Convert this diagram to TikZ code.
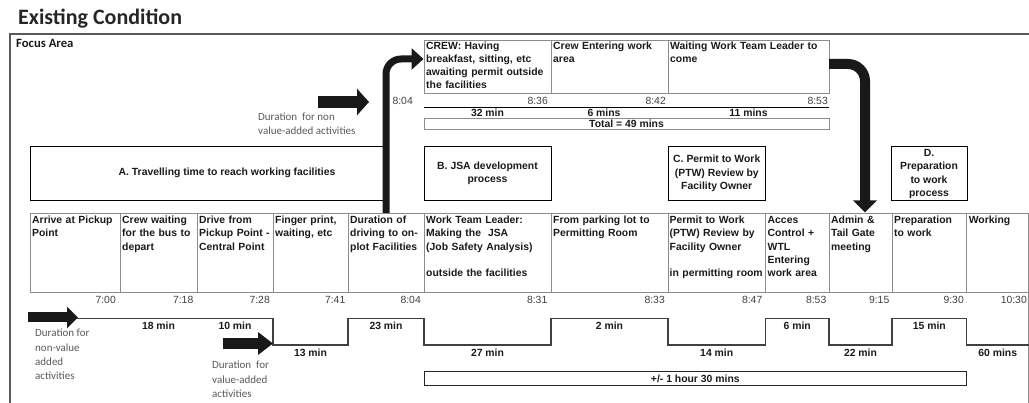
\documentclass[tikz,border=0pt]{standalone}
\usepackage{fontspec}
\setmainfont{Liberation Sans}
\newfontfamily\calfont{Carlito}
\usetikzlibrary{arrows.meta}
\definecolor{tline}{HTML}{8C8C8C}
\definecolor{txt}{HTML}{1A1A1A}
\definecolor{tim}{HTML}{404040}
\definecolor{grayt}{HTML}{595959}
\definecolor{framec}{HTML}{595959}
\definecolor{stepc}{HTML}{404040}
\tikzset{
  cell/.style={anchor=north west, inner sep=0pt, align=left, text width=#1,
    font=\bfseries\fontsize{10.4}{13.2}\selectfont, text=txt, execute at begin node=\strut},
  cat/.style={inner sep=0pt, align=center, font=\bfseries\fontsize{10.4}{13.3}\selectfont, text=txt},
  catbox/.style={draw=black, line width=0.9pt, inner sep=0pt},
  tm/.style={anchor=east, inner sep=0pt, font=\fontsize{10.4}{12}\selectfont, text=tim},
  dur/.style={inner sep=0pt, font=\bfseries\fontsize{10.4}{12}\selectfont, text=txt},
  cal/.style={anchor=north west, inner sep=0pt, align=left,
    font=\calfont\fontsize{11}{14.3}\selectfont, text=grayt, execute at begin node=\strut},
  bigarrow/.style={line width=#1, draw=black!90},
}
\begin{document}
\begin{tikzpicture}[x=1pt,y=-1pt]
\useasboundingbox (0,0) rectangle (1029,403);

% title and frame
\node[anchor=base west, inner sep=0pt, font=\calfont\bfseries\fontsize{22}{26}\selectfont, text=black!85] (title) at (18,25) {Existing Condition};
\draw[framec, line width=2pt] (10,404) -- (10,34) -- (1031,34);
\node[anchor=base west, inner sep=0pt, font=\calfont\bfseries\fontsize{12.7}{15}\selectfont, text=black!90] (focus) at (16,48) {Focus Area};

% top (crew) section
\draw[tline, line width=0.8pt] (424,40) rectangle (829,93);
\draw[tline, line width=0.8pt] (551,40) -- (551,93) (668,40) -- (668,93);
\node[cell=123pt] (crew1) at (426,39.8) {CREW: Having\\breakfast, sitting, etc\\awaiting permit outside\\the facilities};
\node[cell=113pt] (crew2) at (553,39.8) {Crew Entering work\\area};
\node[cell=156pt] (crew3) at (670,39.8) {Waiting Work Team Leader to\\come};
\node[tm] (t804a) at (413,101) {8:04};
\node[tm] (t836) at (548,101) {8:36};
\node[tm] (t842) at (666,101) {8:42};
\node[tm] (t853a) at (828,101) {8:53};
\draw[black, line width=0.9pt] (424,107) -- (829,107);
\node[dur] (d32) at (487.5,113) {32 min};
\node[dur] (d6a) at (604,113) {6 mins};
\node[dur] (d11) at (748.5,113) {11 mins};
\draw[tline, line width=0.8pt] (424,118) rectangle (829,129);
\node[dur] (tot) at (626.5,124) {Total = 49 mins};

% legend arrow top
\coordinate (la1) at (318,102);
\coordinate (la2) at (369,102);
\draw[bigarrow=12pt, -{Triangle[length=12pt,width=26pt]}] (la1) -- (la2);
\node[cal] (lt1) at (258,112.7) {Duration~ for non\\value-added activities};

% category boxes
\node[catbox, minimum width=356pt, minimum height=54pt] (boxA) at (208,173) {};
\node[cat] (txA) at (227,173) {A. Travelling time to reach working facilities};
\node[catbox, minimum width=127pt, minimum height=54pt] (boxB) at (487.5,173) {};
\node[cat] (txB) at (487.5,173) {B. JSA development\\process};
\node[catbox, minimum width=97.5pt, minimum height=54pt] (boxC) at (716.75,173) {};
\node[cat] (txC) at (716.75,173.5) {C. Permit to Work\\(PTW) Review by\\Facility Owner};
\node[catbox, minimum width=76pt, minimum height=54pt] (boxD) at (929,173) {};
\node[cat] (txD) at (929,174) {D.\\Preparation\\to work\\process};

% main table
\draw[tline, line width=0.8pt] (30,213) rectangle (1028.5,292);
\draw[tline, line width=0.8pt] (1028.5,292) -- (1028.5,404);
\foreach \x in {120,197,273,348,424,551,668,765.5,829,892,966.6}
  \draw[tline, line width=0.8pt] (\x,213) -- (\x,292);
\node[cell=86pt] (c1) at (32,214.3) {Arrive at Pickup\\Point};
\node[cell=73pt] (c2) at (122,214.3) {Crew waiting\\for the bus to\\depart};
\node[cell=73pt] (c3) at (199,214.3) {Drive from\\Pickup Point -\\Central Point};
\node[cell=72pt] (c4) at (275,214.3) {Finger print,\\waiting, etc};
\node[cell=73pt] (c5) at (350,214.3) {Duration of\\driving to on-\\plot Facilities};
\node[cell=124pt] (c6) at (426,214.3) {Work Team Leader:\\Making the~ JSA\\(Job Safety Analysis)\\[13.2pt]outside the facilities};
\node[cell=114pt] (c7) at (553,214.3) {From parking lot to\\Permitting Room};
\node[cell=96pt] (c8) at (669.5,214.3) {Permit to Work\\(PTW) Review by\\Facility Owner\\[13.2pt]in permitting room};
\node[cell=61pt] (c9) at (767.5,214.3) {Acces\\Control +\\WTL\\Entering\\work area};
\node[cell=60pt] (c10) at (831,214.3) {Admin \&\\Tail Gate\\meeting};
\node[cell=72pt] (c11) at (894,214.3) {Preparation\\to work};
\node[cell=60pt] (c12) at (968.6,214.3) {Working};

% times
\node[tm] (t700) at (116,299.5) {7:00};
\node[tm] (t718) at (193.5,299.5) {7:18};
\node[tm] (t728) at (270,299.5) {7:28};
\node[tm] (t741) at (345.5,299.5) {7:41};
\node[tm] (t804) at (421,299.5) {8:04};
\node[tm] (t831) at (547.5,299.5) {8:31};
\node[tm] (t833) at (665,299.5) {8:33};
\node[tm] (t847) at (762.5,299.5) {8:47};
\node[tm] (t853) at (826.5,299.5) {8:53};
\node[tm] (t915) at (889.5,299.5) {9:15};
\node[tm] (t930) at (964,299.5) {9:30};
\node[tm] (t1030) at (1027,299.5) {10:30};

% step line
\coordinate (s0) at (77,318.5);
\draw[stepc, line width=1.2pt] (s0) -- (273,318.5) -- (273,345) -- (348,345) -- (348,318.5)
  -- (424,318.5) -- (424,345) -- (551,345) -- (551,318.5) -- (668,318.5) -- (668,345)
  -- (765.5,345) -- (765.5,318.5) -- (829,318.5) -- (829,345) -- (892,345) -- (892,318.5)
  -- (966.6,318.5) -- (966.6,345) -- (1028.5,345);
\node[dur] (d18) at (158.5,326) {18 min};
\node[dur] (d10) at (235,326) {10 min};
\node[dur] (d13) at (310.5,353) {13 min};
\node[dur] (d23) at (386,326) {23 min};
\node[dur] (d27) at (487.5,353) {27 min};
\node[dur] (d2) at (609.5,326) {2 min};
\node[dur] (d14) at (716.7,353) {14 min};
\node[dur] (d6) at (797.2,326) {6 min};
\node[dur] (d22) at (860.5,353) {22 min};
\node[dur] (d15) at (929.3,326) {15 min};
\node[dur] (d60) at (997.7,353) {60 mins};

\draw[black!85, line width=1pt] (424,371.5) rectangle (966.6,385.5);
\node[dur] (hr) at (695.3,378.5) {+/- 1 hour 30 mins};

% legend arrows bottom
\coordinate (ba1) at (28,317.5);
\coordinate (ba2) at (78,317.5);
\draw[bigarrow=10pt, -{Triangle[length=11pt,width=21pt]}] (ba1) -- (ba2);
\node[cal] (bt1) at (35,329) {Duration for\\non-value\\added\\activities};
\coordinate (va1) at (223,343.5);
\coordinate (va2) at (273,343.5);
\draw[bigarrow=11pt, -{Triangle[length=15pt,width=22pt]}] (va1) -- (va2);
\node[cal, font=\calfont\fontsize{11}{14.5}\selectfont] (vt1) at (212,360.7) {Duration~ for\\value-added\\activities};

% curved arrows
\coordinate (ca1) at (386,213);
\coordinate (ca2) at (386,59);
\coordinate (ca3) at (423.5,59);
\draw[bigarrow=7pt, rounded corners=15pt, -{Triangle[length=12pt,width=21pt]}] (ca1) -- (ca2) -- (ca3);
\coordinate (cb1) at (829,64);
\coordinate (cb2) at (865,64);
\coordinate (cb3) at (865,212.5);
\draw[bigarrow=10pt, rounded corners=17pt, -{Triangle[length=12pt,width=23pt]}] (cb1) -- (cb2) -- (cb3);
\end{tikzpicture}
\end{document}
